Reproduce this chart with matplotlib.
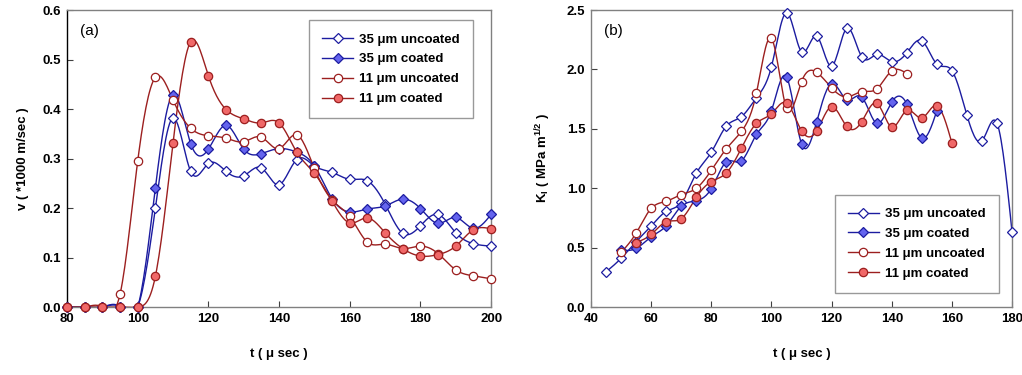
import numpy as np
import matplotlib
matplotlib.use("Agg")
import matplotlib.pyplot as plt
from matplotlib.lines import Line2D

plt.rcParams['font.family'] = ['Liberation Sans', 'DejaVu Sans']
plt.rcParams['mathtext.fontset'] = 'custom'
plt.rcParams['mathtext.rm'] = 'Liberation Sans:bold'
plt.rcParams['mathtext.bf'] = 'Liberation Sans:bold'

# (a) crack velocity
t_a = [80, 85, 90, 95, 100, 105, 110, 115, 120, 125, 130, 135, 140,
       145, 150, 155, 160, 165, 170, 175, 180, 185, 190, 195, 200]
v_35_uncoated = [0, 0, 0, 0, 0, 0.200, 0.382, 0.274, 0.290, 0.274, 0.265, 0.281, 0.247,
                 0.298, 0.285, 0.272, 0.258, 0.255, 0.208, 0.149, 0.164, 0.187, 0.150, 0.128, 0.123]
v_35_coated = [0, 0, 0, 0, 0, 0.241, 0.429, 0.330, 0.319, 0.367, 0.319, 0.310, 0.320,
               0.313, 0.285, 0.219, 0.192, 0.198, 0.204, 0.218, 0.199, 0.169, 0.181, 0.159, 0.187]
v_11_uncoated = [0, 0, 0, 0.026, 0.295, 0.464, 0.418, 0.361, 0.346, 0.341, 0.334, 0.343, 0.320,
                 0.348, 0.280, 0.216, 0.183, 0.131, 0.127, 0.118, 0.123, 0.108, 0.075, 0.063, 0.057]
v_11_coated = [0, 0, 0, 0, 0, 0.062, 0.332, 0.536, 0.467, 0.399, 0.380, 0.372, 0.372,
               0.313, 0.270, 0.214, 0.170, 0.180, 0.150, 0.118, 0.103, 0.106, 0.123, 0.156, 0.158]

# (b) stress intensity factor
t_35u = list(range(45, 185, 5))
k_35_uncoated = [0.296, 0.410, 0.550, 0.681, 0.805, 0.881, 1.126, 1.303, 1.523, 1.602, 1.762,
                 2.024, 2.477, 2.148, 2.280, 2.027, 2.345, 2.106, 2.126, 2.066, 2.140, 2.241,
                 2.044, 1.990, 1.613, 1.399, 1.546, 0.628]
t_35c = list(range(50, 160, 5))
k_35_coated = [0.478, 0.493, 0.591, 0.684, 0.847, 0.895, 0.997, 1.222, 1.230, 1.453, 1.653,
               1.937, 1.374, 1.557, 1.881, 1.745, 1.768, 1.546, 1.726, 1.709, 1.422, 1.653]
t_11u = list(range(50, 150, 5))
k_11_uncoated = [0.459, 0.622, 0.830, 0.890, 0.946, 0.999, 1.151, 1.332, 1.478, 1.802, 2.261,
                 1.675, 1.898, 1.976, 1.844, 1.768, 1.813, 1.836, 1.988, 1.965]
t_11c = list(range(55, 165, 5))
k_11_coated = [0.543, 0.611, 0.718, 0.743, 0.923, 1.056, 1.129, 1.337, 1.546, 1.627,
               1.717, 1.484, 1.481, 1.686, 1.520, 1.560, 1.715, 1.515, 1.655, 1.591, 1.695, 1.380]

labels = ['35 μm uncoated', '35 μm coated', '11 μm uncoated', '11 μm coated']
blue, blue_fill = '#1c1ca0', '#6464ee'
red, red_fill = '#9c1f1f', '#f06868'
styles = [
    dict(color=blue, marker='D', mfc='white', mec=blue),
    dict(color=blue, marker='D', mfc=blue_fill, mec=blue),
    dict(color=red, marker='o', mfc='white', mec=red),
    dict(color=red, marker='o', mfc=red_fill, mec=red),
]


def smooth(x, y, n=15):
    # natural cubic spline through the points, like the original plotting program
    x = np.asarray(x, float)
    y = np.asarray(y, float)
    m = len(x)
    h = np.diff(x)
    A = np.zeros((m, m))
    b = np.zeros(m)
    A[0, 0] = A[-1, -1] = 1
    for i in range(1, m - 1):
        A[i, i - 1] = h[i - 1]
        A[i, i] = 2 * (h[i - 1] + h[i])
        A[i, i + 1] = h[i]
        b[i] = 6 * ((y[i + 1] - y[i]) / h[i] - (y[i] - y[i - 1]) / h[i - 1])
    M = np.linalg.solve(A, b)
    xs, ys = [], []
    for i in range(m - 1):
        s = np.linspace(0, 1, n, endpoint=False)
        xx = x[i] + s * h[i]
        a = 1 - s
        yy = (a * y[i] + s * y[i + 1]
              + ((a ** 3 - a) * M[i] + (s ** 3 - s) * M[i + 1]) * h[i] ** 2 / 6)
        xs.append(xx)
        ys.append(yy)
    xs.append([x[-1]])
    ys.append([y[-1]])
    return np.concatenate(xs), np.concatenate(ys)


def draw(ax, x, y, st):
    sx, sy = smooth(x, y)
    ax.plot(sx, sy, color=st['color'], lw=1.0)
    ax.plot(x, y, ls='none', marker=st['marker'], mfc=st['mfc'], mec=st['mec'],
            mew=0.9, ms=6 if st['marker'] == 'o' else 5.5, clip_on=False, zorder=3)


def style_axes(ax):
    for s in ['top', 'right', 'bottom', 'left']:
        ax.spines[s].set_color('#808080')
        ax.spines[s].set_linewidth(1.0)
    ax.tick_params(direction='in', length=4, width=0.8, color='#404040',
                   labelsize=9.5, pad=4)
    for lab in ax.get_xticklabels() + ax.get_yticklabels():
        lab.set_fontweight('bold')


def legend(ax, **kw):
    handles = [Line2D([], [], color=st['color'], lw=1.0, marker=st['marker'],
                      mfc=st['mfc'], mec=st['mec'], mew=0.9,
                      ms=6 if st['marker'] == 'o' else 5.5) for st in styles]
    lg = ax.legend(handles, labels, fancybox=False, frameon=True, handlelength=2.3,
                   handletextpad=0.5, borderpad=1.0, labelspacing=0.58,
                   prop={'weight': 'bold', 'size': 9.5}, borderaxespad=0, **kw)
    lg.get_frame().set_edgecolor('#808080')
    lg.get_frame().set_linewidth(1.0)


fig = plt.figure(figsize=(10.22, 3.75), dpi=100)
ax1 = fig.add_axes([0.0656, 0.1813, 0.4149, 0.792])
ax2 = fig.add_axes([0.5783, 0.1813, 0.412, 0.792])

for y, st in zip([v_35_uncoated, v_35_coated, v_11_uncoated, v_11_coated], styles):
    draw(ax1, t_a, y, st)
ax1.set_xlim(80, 200)
ax1.set_ylim(0, 0.6)
ax1.set_xticks(range(80, 201, 20))
ax1.set_yticks(np.arange(0, 0.61, 0.1))
ax1.set_yticklabels(['%.1f' % v for v in np.arange(0, 0.61, 0.1)])
style_axes(ax1)
ax1.spines['left'].set_color('black')
ax1.set_xlabel('t ( μ sec )', fontsize=9.5, fontweight='bold', labelpad=17)
ax1.set_ylabel('v ( *1000 m/sec )', fontsize=9.5, fontweight='bold', labelpad=10)
ax1.text(0.03, 0.93, '(a)', transform=ax1.transAxes, fontsize=11, va='center')
legend(ax1, loc='upper right', bbox_to_anchor=(0.958, 0.966))

for x, y, st in zip([t_35u, t_35c, t_11u, t_11c],
                    [k_35_uncoated, k_35_coated, k_11_uncoated, k_11_coated], styles):
    draw(ax2, x, y, st)
ax2.set_xlim(40, 180)
ax2.set_ylim(0, 2.5)
ax2.set_xticks(range(40, 181, 20))
ax2.set_yticks(np.arange(0, 2.51, 0.5))
ax2.set_yticklabels(['%.1f' % v for v in np.arange(0, 2.51, 0.5)])
style_axes(ax2)
ax2.set_xlabel('t ( μ sec )', fontsize=9.5, fontweight='bold', labelpad=17)
ax2.set_ylabel('K$_\\mathregular{I}$ ( MPa m$^\\mathregular{1/2}$ )', fontsize=9.5,
               fontweight='bold', labelpad=10)
ax2.text(0.03, 0.93, '(b)', transform=ax2.transAxes, fontsize=11, va='center')
legend(ax2, loc='lower right', bbox_to_anchor=(0.969, 0.047))

fig.savefig('out.png', dpi=100)
